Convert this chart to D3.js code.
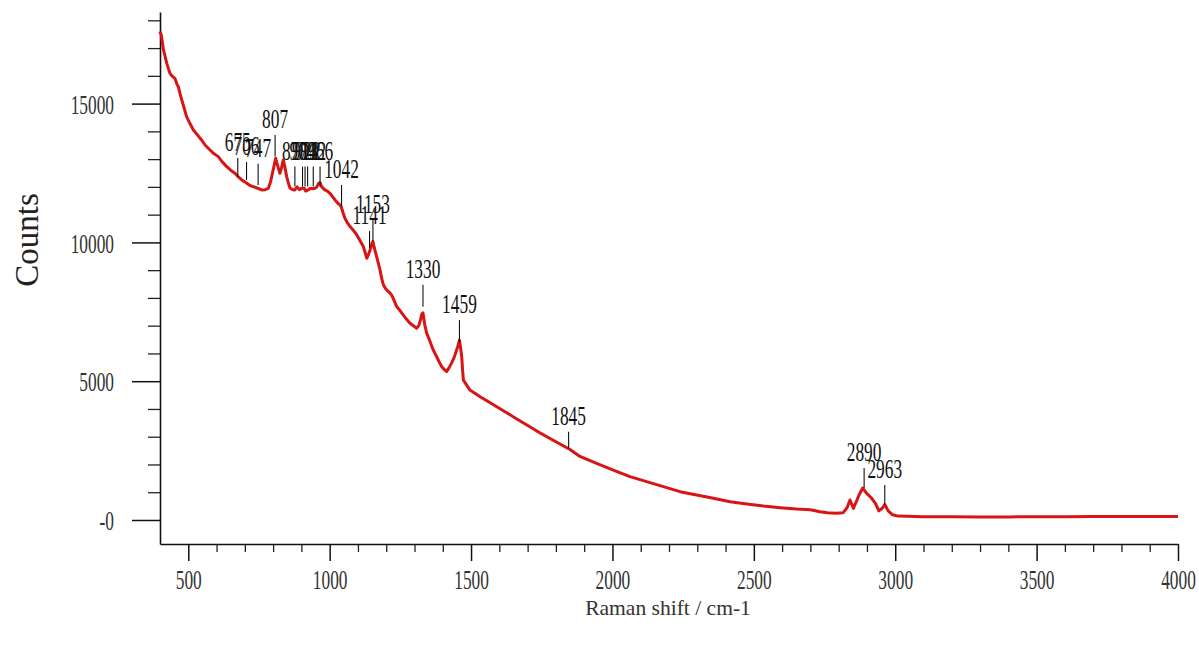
<!DOCTYPE html>
<html><head><meta charset="utf-8">
<script src="https://cdn.jsdelivr.net/npm/d3@7"></script>
<style>body{margin:0;background:#fff} svg{display:block}</style>
</head><body>
<svg id="c" width="1199" height="645"></svg>
<script>
const wavenumber = [400,405,412,418,424,430,435,442,448,453,460,465,471,477,485,494,505,518,530,547,560,577,590,606,620,636,650,665,675,689,700,707,718,730,745,760,772,783,790,795,802,809,815,824,830,836,842,848,855,860,870,877,885,893,901,910,915,924,932,940,948,955,961,966,972,983,992,1001,1010,1019,1030,1037,1042,1048,1054,1063,1072,1085,1096,1108,1119,1126,1131,1137,1143,1150,1153,1158,1166,1172,1178,1184,1190,1198,1207,1213,1219,1228,1237,1248,1260,1272,1284,1296,1308,1315,1321,1326,1330,1336,1343,1350,1355,1365,1378,1387,1396,1405,1414,1422,1431,1440,1447,1453,1459,1463,1467,1470,1473,1485,1496,1515,1532,1560,1591,1620,1649,1678,1708,1750,1800,1850,1885,1944,2003,2062,2121,2180,2239,2298,2357,2416,2475,2534,2593,2651,2700,2734,2760,2790,2816,2830,2840,2852,2862,2872,2885,2899,2915,2930,2942,2955,2963,2975,2990,3010,3100,3200,3300,3400,3500,3600,3700,3800,3900,4000];
const counts = [17600,17450,16950,16700,16450,16250,16100,16000,15950,15900,15700,15600,15350,15130,14850,14530,14300,14050,13900,13690,13500,13330,13200,13090,12900,12730,12600,12490,12380,12250,12180,12130,12050,12010,11950,11890,11900,11950,12150,12370,12700,13030,12800,12490,12700,12970,12700,12370,12100,11950,11900,11890,12000,11900,11950,11950,11850,11890,11950,11930,11950,12000,12130,12150,12000,11890,11850,11770,11650,11530,11400,11350,11250,11050,10870,10700,10570,10420,10270,10050,9850,9620,9430,9550,9730,9980,10030,9800,9490,9250,9010,8700,8470,8330,8230,8180,8110,7900,7690,7550,7390,7230,7090,7000,6910,7000,7200,7420,7460,7050,6730,6560,6430,6150,5890,5700,5530,5420,5350,5480,5650,5850,6070,6250,6480,6200,5890,5400,5040,4850,4680,4560,4440,4270,4080,3900,3720,3540,3360,3100,2820,2540,2290,2040,1800,1560,1380,1200,1020,900,780,660,575,500,445,395,370,300,260,240,265,450,720,420,650,900,1150,960,800,600,330,430,560,330,190,140,120,115,110,110,120,120,125,125,125,125];

const peakLabels = [675,706,747,807,877,904,913,922,942,966,1042,1141,1153,1330,1459,1845,2890,2963];
const peakBase  = [12360,12250,12070,13090,12010,12010,12010,12010,12010,12010,11290,9800,10030,7680,6380,2580,1150,540];
const peakTop   = [13040,12900,12830,13870,12730,12730,12730,12730,12730,12730,12070,10410,10810,8470,7200,3180,1870,1260];

const xMajorTicks = [500,1000,1500,2000,2500,3000,3500,4000];
const xMinorTicks = d3.range(500,4001,100).filter(v => v % 500 !== 0);
const yMajorTicks = [0,5000,10000,15000];
const yTickLabels = ["-0","5000","10000","15000"];
const yMinorTicks = d3.range(1000,18001,1000).filter(v => v % 5000 !== 0);

const svg = d3.select("#c");
const x = d3.scaleLinear().domain([400,4000]).range([160,1178]);
const y = d3.scaleLinear().domain([-865,18300]).range([544,12]);

const SX = 0.62;
const numFont = "'Liberation Serif', 'Times New Roman', serif";

// minor ticks
const xMinor = d3.axisBottom(x).tickValues(xMinorTicks).tickSize(8).tickSizeOuter(0).tickFormat("");
svg.append("g").attr("transform","translate(0,544)").call(xMinor)
  .call(g => g.select(".domain").remove())
  .selectAll("line").attr("stroke","#222").attr("stroke-width",1.3);
const yMinor = d3.axisLeft(y).tickValues(yMinorTicks).tickSize(12).tickSizeOuter(0).tickFormat("");
svg.append("g").attr("transform","translate(160,0)").call(yMinor)
  .call(g => g.select(".domain").remove())
  .selectAll("line").attr("stroke","#222").attr("stroke-width",1.3);

// major x axis
const xAxis = d3.axisBottom(x).tickValues(xMajorTicks).tickSize(17).tickSizeOuter(0)
  .tickFormat(d3.format("d"));
const gx = svg.append("g").attr("transform","translate(0,544)").call(xAxis);
gx.select(".domain").attr("stroke","#111").attr("stroke-width",1.6);
gx.selectAll("line").attr("stroke","#111").attr("stroke-width",1.5);
gx.selectAll("text")
  .attr("y",0).attr("dy",null).attr("x",0)
  .attr("transform",`translate(0,45) scale(${SX},1)`)
  .attr("font-family",numFont).attr("font-size",28).attr("fill","#333");

// major y axis
const yAxis = d3.axisLeft(y).tickValues(yMajorTicks).tickSize(28).tickSizeOuter(0)
  .tickFormat((d,i) => yTickLabels[i]);
const gy = svg.append("g").attr("transform","translate(160,0)").call(yAxis);
gy.select(".domain").attr("stroke","#111").attr("stroke-width",1.6);
gy.selectAll("line").attr("stroke","#111").attr("stroke-width",1.5);
gy.selectAll("text")
  .attr("x",0).attr("dy","0.35em")
  .attr("transform",`translate(-46,0) scale(${SX},1)`)
  .attr("font-family",numFont).attr("font-size",28).attr("fill","#333");

// spectrum
const data = wavenumber.map((w,i) => [w, counts[i]]);
svg.append("path").datum(data)
  .attr("fill","none").attr("stroke","#d81414").attr("stroke-width",3)
  .attr("stroke-linejoin","round")
  .attr("d", d3.line().x(d => x(d[0])).y(d => y(d[1])));

// peak markers
const peaks = peakLabels.map((p,i) => ({p, base: peakBase[i], top: peakTop[i]}));
const pg = svg.append("g");
pg.selectAll("line").data(peaks).join("line")
  .attr("x1", d => x(d.p)).attr("x2", d => x(d.p))
  .attr("y1", d => y(d.base)).attr("y2", d => y(d.top))
  .attr("stroke","#111").attr("stroke-width",1.1);
pg.selectAll("text").data(peaks).join("text")
  .attr("transform", d => `translate(${x(d.p)},${y(d.top) - 7}) scale(${SX},1)`)
  .attr("text-anchor","middle")
  .attr("font-family",numFont).attr("font-size",28).attr("fill","#111")
  .text(d => d.p);

// axis titles
svg.append("text")
  .attr("transform","translate(668,615) scale(0.98,1)")
  .attr("text-anchor","middle")
  .attr("font-family",numFont).attr("font-size",22).attr("fill","#333")
  .text("Raman shift / cm-1");
svg.append("text")
  .attr("transform","translate(38,240) rotate(-90)")
  .attr("text-anchor","middle")
  .attr("font-family",numFont).attr("font-size",33).attr("fill","#222")
  .text("Counts");
</script>
</body></html>
